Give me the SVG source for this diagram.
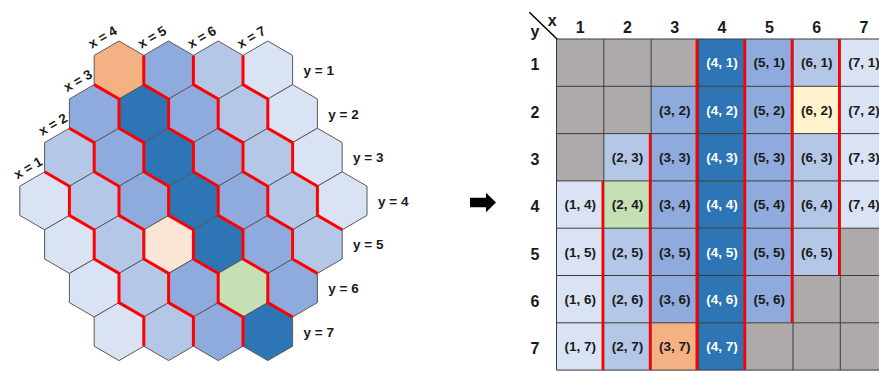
<svg xmlns="http://www.w3.org/2000/svg" xmlns:xlink="http://www.w3.org/1999/xlink" width="879" height="371" viewBox="0 0 879 371">
  <style>
    .hexshape { stroke: #595959; stroke-width: 1; }
    .orange { fill: #F4B183; }
    .peach { fill: #FBE5D6; }
    .green { fill: #C5E0B4; }
    .yellow { fill: #FFF2CC; }
    .dark { fill: #2E75B6; }
    .med { fill: #8FAADC; }
    .light { fill: #B4C7E7; }
    .pale { fill: #DAE3F3; }
    .gray { fill: #AEAAAA; }
    .lbl { font-family: "Liberation Sans", Arial, sans-serif; font-weight: bold; font-size: 13.5px; fill: #1a1a1a; }
    .mid { text-anchor: middle; }
    .ct { font-family: "Liberation Sans", Arial, sans-serif; font-weight: bold; font-size: 13.5px; fill: #1a1a1a; text-anchor: middle; }
    .ctw { fill: #ffffff; }
    .hd { font-family: "Liberation Sans", Arial, sans-serif; font-weight: bold; font-size: 16px; fill: #1a1a1a; text-anchor: middle; }
    .red { fill: none; stroke: #FF0000; stroke-width: 3; stroke-linejoin: round; }
    .redt { fill: none; stroke: #FF0000; stroke-width: 2.6; }
    .grid { fill: none; stroke: #3a3a3a; stroke-width: 1; }
  </style>
  <defs>
    <polygon id="hex" class="hexshape" points="0,-29 24.8,-14.6 24.8,14.6 0,29 -24.8,14.6 -24.8,-14.6"/>
  </defs>
  <rect width="879" height="371" fill="#ffffff"/>

  <!-- hexagonal board -->
  <g id="board">
    <g id="hex-4-1"><use xlink:href="#hex" x="119" y="70" class="orange"/></g>
    <g id="hex-5-1"><use xlink:href="#hex" x="168.6" y="70" class="med"/></g>
    <g id="hex-6-1"><use xlink:href="#hex" x="218.2" y="70" class="light"/></g>
    <g id="hex-7-1"><use xlink:href="#hex" x="267.8" y="70" class="pale"/></g>

    <g id="hex-3-2"><use xlink:href="#hex" x="94.2" y="113.6" class="med"/></g>
    <g id="hex-4-2"><use xlink:href="#hex" x="143.8" y="113.6" class="dark"/></g>
    <g id="hex-5-2"><use xlink:href="#hex" x="193.4" y="113.6" class="med"/></g>
    <g id="hex-6-2"><use xlink:href="#hex" x="243" y="113.6" class="light"/></g>
    <g id="hex-7-2"><use xlink:href="#hex" x="292.6" y="113.6" class="pale"/></g>

    <g id="hex-2-3"><use xlink:href="#hex" x="69.4" y="157.2" class="light"/></g>
    <g id="hex-3-3"><use xlink:href="#hex" x="119" y="157.2" class="med"/></g>
    <g id="hex-4-3"><use xlink:href="#hex" x="168.6" y="157.2" class="dark"/></g>
    <g id="hex-5-3"><use xlink:href="#hex" x="218.2" y="157.2" class="med"/></g>
    <g id="hex-6-3"><use xlink:href="#hex" x="267.8" y="157.2" class="light"/></g>
    <g id="hex-7-3"><use xlink:href="#hex" x="317.4" y="157.2" class="pale"/></g>

    <g id="hex-1-4"><use xlink:href="#hex" x="44.6" y="200.8" class="pale"/></g>
    <g id="hex-2-4"><use xlink:href="#hex" x="94.2" y="200.8" class="light"/></g>
    <g id="hex-3-4"><use xlink:href="#hex" x="143.8" y="200.8" class="med"/></g>
    <g id="hex-4-4"><use xlink:href="#hex" x="193.4" y="200.8" class="dark"/></g>
    <g id="hex-5-4"><use xlink:href="#hex" x="243" y="200.8" class="med"/></g>
    <g id="hex-6-4"><use xlink:href="#hex" x="292.6" y="200.8" class="light"/></g>
    <g id="hex-7-4"><use xlink:href="#hex" x="342.2" y="200.8" class="pale"/></g>

    <g id="hex-1-5"><use xlink:href="#hex" x="69.4" y="244.4" class="pale"/></g>
    <g id="hex-2-5"><use xlink:href="#hex" x="119" y="244.4" class="light"/></g>
    <g id="hex-3-5"><use xlink:href="#hex" x="168.6" y="244.4" class="peach"/></g>
    <g id="hex-4-5"><use xlink:href="#hex" x="218.2" y="244.4" class="dark"/></g>
    <g id="hex-5-5"><use xlink:href="#hex" x="267.8" y="244.4" class="med"/></g>
    <g id="hex-6-5"><use xlink:href="#hex" x="317.4" y="244.4" class="light"/></g>

    <g id="hex-1-6"><use xlink:href="#hex" x="94.2" y="288" class="pale"/></g>
    <g id="hex-2-6"><use xlink:href="#hex" x="143.8" y="288" class="light"/></g>
    <g id="hex-3-6"><use xlink:href="#hex" x="193.4" y="288" class="med"/></g>
    <g id="hex-4-6"><use xlink:href="#hex" x="243" y="288" class="green"/></g>
    <g id="hex-5-6"><use xlink:href="#hex" x="292.6" y="288" class="med"/></g>

    <g id="hex-1-7"><use xlink:href="#hex" x="119" y="331.6" class="pale"/></g>
    <g id="hex-2-7"><use xlink:href="#hex" x="168.6" y="331.6" class="light"/></g>
    <g id="hex-3-7"><use xlink:href="#hex" x="218.2" y="331.6" class="med"/></g>
    <g id="hex-4-7"><use xlink:href="#hex" x="267.8" y="331.6" class="dark"/></g>
  </g>

  <!-- column boundaries on the board -->
  <g id="board-borders" class="red">
    <path d="M44.6 171.8 L69.4 186.2 V215.4 L94.2 229.8 V259 L119 273.4 V302.6 L143.8 317 V346.2"/>
    <path d="M69.4 128.2 L94.2 142.6 V171.8 L119 186.2 V215.4 L143.8 229.8 V259 L168.6 273.4 V302.6 L193.4 317 V346.2"/>
    <path d="M94.2 84.6 L119 99 V128.2 L143.8 142.6 V171.8 L168.6 186.2 V215.4 L193.4 229.8 V259 L218.2 273.4 V302.6 L243 317 V346.2"/>
    <path d="M143.8 55.4 V84.6 L168.6 99 V128.2 L193.4 142.6 V171.8 L218.2 186.2 V215.4 L243 229.8 V259 L267.8 273.4 V302.6 L292.6 317"/>
    <path d="M193.4 55.4 V84.6 L218.2 99 V128.2 L243 142.6 V171.8 L267.8 186.2 V215.4 L292.6 229.8 V259 L317.4 273.4"/>
    <path d="M243 55.4 V84.6 L267.8 99 V128.2 L292.6 142.6 V171.8 L317.4 186.2 V215.4 L342.2 229.8"/>
  </g>

  <!-- axis labels on the board -->
  <g id="board-labels" class="lbl">
    <text class="mid" transform="translate(28.2,168) rotate(-30)" y="4.5">x = 1</text>
    <text class="mid" transform="translate(53,124.4) rotate(-30)" y="4.5">x = 2</text>
    <text class="mid" transform="translate(77.8,80.8) rotate(-30)" y="4.5">x = 3</text>
    <text class="mid" transform="translate(102.6,37.2) rotate(-30)" y="4.5">x = 4</text>
    <text class="mid" transform="translate(152.2,37.2) rotate(-30)" y="4.5">x = 5</text>
    <text class="mid" transform="translate(201.8,37.2) rotate(-30)" y="4.5">x = 6</text>
    <text class="mid" transform="translate(251.4,37.2) rotate(-30)" y="4.5">x = 7</text>
    <text x="303.5" y="75">y = 1</text>
    <text x="328.3" y="118.6">y = 2</text>
    <text x="353" y="162.2">y = 3</text>
    <text x="378" y="205.8">y = 4</text>
    <text x="353" y="249.4">y = 5</text>
    <text x="328.3" y="293">y = 6</text>
    <text x="303.5" y="336.6">y = 7</text>
  </g>

  <!-- arrow -->
  <polygon id="arrow" points="470,197.7 486,197.7 486,192.7 496,202.5 486,212.3 486,207.3 470,207.3" fill="#000000"/>

  <!-- table -->
  <g id="table">
    <!-- row 1 -->
    <g id="cell-1-1"><rect x="556.5" y="39" width="47.3" height="47.3" class="gray"/></g>
    <g id="cell-2-1"><rect x="603.8" y="39" width="47.3" height="47.3" class="gray"/></g>
    <g id="cell-3-1"><rect x="651.1" y="39" width="47.3" height="47.3" class="gray"/></g>
    <g id="cell-4-1"><rect x="698.4" y="39" width="47.3" height="47.3" class="dark"/><text x="722.05" y="67.4" class="ct ctw">(4, 1)</text></g>
    <g id="cell-5-1"><rect x="745.7" y="39" width="47.3" height="47.3" class="med"/><text x="769.35" y="67.4" class="ct">(5, 1)</text></g>
    <g id="cell-6-1"><rect x="793" y="39" width="47.3" height="47.3" class="light"/><text x="816.65" y="67.4" class="ct">(6, 1)</text></g>
    <g id="cell-7-1"><rect x="840.3" y="39" width="47.3" height="47.3" class="pale"/><text x="863.95" y="67.4" class="ct">(7, 1)</text></g>
    <!-- row 2 -->
    <g id="cell-1-2"><rect x="556.5" y="86.3" width="47.3" height="47.3" class="gray"/></g>
    <g id="cell-2-2"><rect x="603.8" y="86.3" width="47.3" height="47.3" class="gray"/></g>
    <g id="cell-3-2"><rect x="651.1" y="86.3" width="47.3" height="47.3" class="med"/><text x="674.75" y="114.7" class="ct">(3, 2)</text></g>
    <g id="cell-4-2"><rect x="698.4" y="86.3" width="47.3" height="47.3" class="dark"/><text x="722.05" y="114.7" class="ct ctw">(4, 2)</text></g>
    <g id="cell-5-2"><rect x="745.7" y="86.3" width="47.3" height="47.3" class="med"/><text x="769.35" y="114.7" class="ct">(5, 2)</text></g>
    <g id="cell-6-2"><rect x="793" y="86.3" width="47.3" height="47.3" class="yellow"/><text x="816.65" y="114.7" class="ct">(6, 2)</text></g>
    <g id="cell-7-2"><rect x="840.3" y="86.3" width="47.3" height="47.3" class="pale"/><text x="863.95" y="114.7" class="ct">(7, 2)</text></g>
    <!-- row 3 -->
    <g id="cell-1-3"><rect x="556.5" y="133.6" width="47.3" height="47.3" class="gray"/></g>
    <g id="cell-2-3"><rect x="603.8" y="133.6" width="47.3" height="47.3" class="light"/><text x="627.45" y="162" class="ct">(2, 3)</text></g>
    <g id="cell-3-3"><rect x="651.1" y="133.6" width="47.3" height="47.3" class="med"/><text x="674.75" y="162" class="ct">(3, 3)</text></g>
    <g id="cell-4-3"><rect x="698.4" y="133.6" width="47.3" height="47.3" class="dark"/><text x="722.05" y="162" class="ct ctw">(4, 3)</text></g>
    <g id="cell-5-3"><rect x="745.7" y="133.6" width="47.3" height="47.3" class="med"/><text x="769.35" y="162" class="ct">(5, 3)</text></g>
    <g id="cell-6-3"><rect x="793" y="133.6" width="47.3" height="47.3" class="light"/><text x="816.65" y="162" class="ct">(6, 3)</text></g>
    <g id="cell-7-3"><rect x="840.3" y="133.6" width="47.3" height="47.3" class="pale"/><text x="863.95" y="162" class="ct">(7, 3)</text></g>
    <!-- row 4 -->
    <g id="cell-1-4"><rect x="556.5" y="180.9" width="47.3" height="47.3" class="pale"/><text x="580.15" y="209.3" class="ct">(1, 4)</text></g>
    <g id="cell-2-4"><rect x="603.8" y="180.9" width="47.3" height="47.3" class="green"/><text x="627.45" y="209.3" class="ct">(2, 4)</text></g>
    <g id="cell-3-4"><rect x="651.1" y="180.9" width="47.3" height="47.3" class="med"/><text x="674.75" y="209.3" class="ct">(3, 4)</text></g>
    <g id="cell-4-4"><rect x="698.4" y="180.9" width="47.3" height="47.3" class="dark"/><text x="722.05" y="209.3" class="ct ctw">(4, 4)</text></g>
    <g id="cell-5-4"><rect x="745.7" y="180.9" width="47.3" height="47.3" class="med"/><text x="769.35" y="209.3" class="ct">(5, 4)</text></g>
    <g id="cell-6-4"><rect x="793" y="180.9" width="47.3" height="47.3" class="light"/><text x="816.65" y="209.3" class="ct">(6, 4)</text></g>
    <g id="cell-7-4"><rect x="840.3" y="180.9" width="47.3" height="47.3" class="pale"/><text x="863.95" y="209.3" class="ct">(7, 4)</text></g>
    <!-- row 5 -->
    <g id="cell-1-5"><rect x="556.5" y="228.2" width="47.3" height="47.3" class="pale"/><text x="580.15" y="256.6" class="ct">(1, 5)</text></g>
    <g id="cell-2-5"><rect x="603.8" y="228.2" width="47.3" height="47.3" class="light"/><text x="627.45" y="256.6" class="ct">(2, 5)</text></g>
    <g id="cell-3-5"><rect x="651.1" y="228.2" width="47.3" height="47.3" class="med"/><text x="674.75" y="256.6" class="ct">(3, 5)</text></g>
    <g id="cell-4-5"><rect x="698.4" y="228.2" width="47.3" height="47.3" class="dark"/><text x="722.05" y="256.6" class="ct ctw">(4, 5)</text></g>
    <g id="cell-5-5"><rect x="745.7" y="228.2" width="47.3" height="47.3" class="med"/><text x="769.35" y="256.6" class="ct">(5, 5)</text></g>
    <g id="cell-6-5"><rect x="793" y="228.2" width="47.3" height="47.3" class="light"/><text x="816.65" y="256.6" class="ct">(6, 5)</text></g>
    <g id="cell-7-5"><rect x="840.3" y="228.2" width="47.3" height="47.3" class="gray"/></g>
    <!-- row 6 -->
    <g id="cell-1-6"><rect x="556.5" y="275.5" width="47.3" height="47.3" class="pale"/><text x="580.15" y="303.9" class="ct">(1, 6)</text></g>
    <g id="cell-2-6"><rect x="603.8" y="275.5" width="47.3" height="47.3" class="light"/><text x="627.45" y="303.9" class="ct">(2, 6)</text></g>
    <g id="cell-3-6"><rect x="651.1" y="275.5" width="47.3" height="47.3" class="med"/><text x="674.75" y="303.9" class="ct">(3, 6)</text></g>
    <g id="cell-4-6"><rect x="698.4" y="275.5" width="47.3" height="47.3" class="dark"/><text x="722.05" y="303.9" class="ct ctw">(4, 6)</text></g>
    <g id="cell-5-6"><rect x="745.7" y="275.5" width="47.3" height="47.3" class="med"/><text x="769.35" y="303.9" class="ct">(5, 6)</text></g>
    <g id="cell-6-6"><rect x="793" y="275.5" width="47.3" height="47.3" class="gray"/></g>
    <g id="cell-7-6"><rect x="840.3" y="275.5" width="47.3" height="47.3" class="gray"/></g>
    <!-- row 7 -->
    <g id="cell-1-7"><rect x="556.5" y="322.8" width="47.3" height="47.3" class="pale"/><text x="580.15" y="351.2" class="ct">(1, 7)</text></g>
    <g id="cell-2-7"><rect x="603.8" y="322.8" width="47.3" height="47.3" class="light"/><text x="627.45" y="351.2" class="ct">(2, 7)</text></g>
    <g id="cell-3-7"><rect x="651.1" y="322.8" width="47.3" height="47.3" class="orange"/><text x="674.75" y="351.2" class="ct">(3, 7)</text></g>
    <g id="cell-4-7"><rect x="698.4" y="322.8" width="47.3" height="47.3" class="dark"/><text x="722.05" y="351.2" class="ct ctw">(4, 7)</text></g>
    <g id="cell-5-7"><rect x="745.7" y="322.8" width="47.3" height="47.3" class="gray"/></g>
    <g id="cell-6-7"><rect x="793" y="322.8" width="47.3" height="47.3" class="gray"/></g>
    <g id="cell-7-7"><rect x="840.3" y="322.8" width="47.3" height="47.3" class="gray"/></g>

    <!-- cell borders -->
    <path class="grid" d="M556.5 39 V370.1 M603.8 39 V370.1 M651.1 39 V370.1 M698.4 39 V370.1 M745.7 39 V370.1 M793 39 V370.1 M840.3 39 V370.1
      M556.5 39 H887.6 M556.5 86.3 H887.6 M556.5 133.6 H887.6 M556.5 180.9 H887.6 M556.5 228.2 H887.6 M556.5 275.5 H887.6 M556.5 322.8 H887.6 M556.5 370.1 H887.6"/>

    <!-- column boundaries -->
    <g id="table-borders" class="redt">
      <path d="M602.8 180.9 V370.1"/>
      <path d="M650.1 133.6 V370.1"/>
      <path d="M696.8 39 V370.1"/>
      <path d="M744.7 39 V370.1"/>
      <path d="M792 39 V322.8"/>
      <path d="M839.3 39 V275.5"/>
    </g>

    <!-- headers -->
    <line x1="529.3" y1="12.3" x2="557" y2="39" stroke="#000000" stroke-width="1.5"/>
    <text x="552.3" y="25.5" class="hd">x</text>
    <text x="535" y="37" class="hd">y</text>
    <g id="col-headers" class="hd">
      <text x="580.15" y="32.5">1</text>
      <text x="627.45" y="32.5">2</text>
      <text x="674.75" y="32.5">3</text>
      <text x="722.05" y="32.5">4</text>
      <text x="769.35" y="32.5">5</text>
      <text x="816.65" y="32.5">6</text>
      <text x="863.95" y="32.5">7</text>
    </g>
    <g id="row-headers" class="hd">
      <text x="535" y="70.3">1</text>
      <text x="535" y="117.6">2</text>
      <text x="535" y="164.9">3</text>
      <text x="535" y="212.2">4</text>
      <text x="535" y="259.5">5</text>
      <text x="535" y="306.8">6</text>
      <text x="535" y="354.1">7</text>
    </g>
  </g>
</svg>
